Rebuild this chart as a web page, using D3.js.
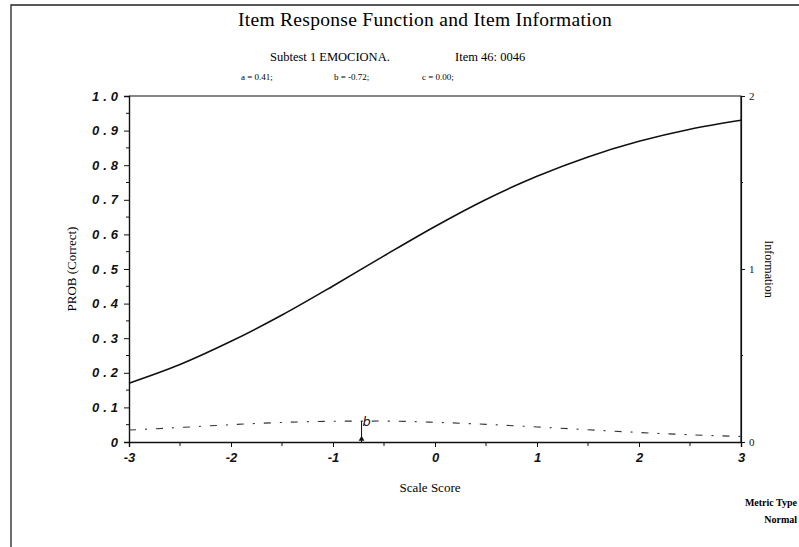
<!DOCTYPE html>
<html>
<head>
<meta charset="utf-8">
<script src="https://cdn.jsdelivr.net/npm/d3@7"></script>
<style>
  body { margin: 0; background: #fff; }
  svg { display: block; }
</style>
</head>
<body>
<svg id="chart"></svg>
<script>
// values
const theta = [-3, -2.5, -2, -1.5, -1, -0.5, 0, 0.5, 1, 1.5, 2, 2.5, 3];
const prob = [0.17, 0.224, 0.291, 0.367, 0.451, 0.538, 0.623, 0.701, 0.768, 0.824, 0.869, 0.904, 0.93];
const info = [0.069, 0.084, 0.100, 0.113, 0.120, 0.121, 0.114, 0.102, 0.087, 0.071, 0.055, 0.042, 0.032];
const bValue = -0.72;
const bInfo = 0.121;
const xTicks = [-3, -2, -1, 0, 1, 2, 3];
const yTicks = [0, 0.1, 0.2, 0.3, 0.4, 0.5, 0.6, 0.7, 0.8, 0.9, 1.0];
const yTickLabels = ["0", "0.1", "0.2", "0.3", "0.4", "0.5", "0.6", "0.7", "0.8", "0.9", "1.0"];
const infoTicks = [0, 1, 2];

const width = 799;
const height = 547;
const margin = { top: 96, right: 58, bottom: 105, left: 129 };

const svg = d3.select("#chart").attr("width", width).attr("height", height);

const x = d3.scaleLinear().domain([-3, 3]).range([margin.left, width - margin.right]);
const y = d3.scaleLinear().domain([0, 1]).range([height - margin.bottom, margin.top]);
const yInfo = d3.scaleLinear().domain([0, 2]).range([height - margin.bottom, margin.top]);

const serif = "'Liberation Serif', 'DejaVu Serif', serif";
const tickFont = "'Liberation Sans', Arial, sans-serif";

// page frame (left and top edge)
svg.append("path")
  .attr("d", `M11,${height} L11,5 L${width},5`)
  .attr("fill", "none")
  .attr("stroke", "#222")
  .attr("stroke-width", 1.3);

// top and right sides of the plot box
svg.append("path")
  .attr("d", `M${x(-3)},${y(1)} L${x(3)},${y(1)} L${x(3)},${y(0)}`)
  .attr("fill", "none")
  .attr("stroke", "#111")
  .attr("stroke-width", 1.2);

// left axis
const yAxis = svg.append("g")
  .attr("transform", `translate(${margin.left},0)`)
  .call(d3.axisLeft(y).tickValues(yTicks).tickSize(5).tickPadding(4)
    .tickFormat((d, i) => yTickLabels[i]));
yAxis.selectAll("line").attr("stroke", "#111");
yAxis.select(".domain").attr("stroke", "#111").attr("stroke-width", 1.4);
yAxis.selectAll("text")
  .style("font-family", tickFont)
  .style("font-size", "13px")
  .style("font-style", "italic")
  .style("font-weight", "bold")
  .style("letter-spacing", "4px")
  .style("fill", "#111")
  .attr("x", -7);
// minor y ticks
svg.append("g").selectAll("line")
  .data(d3.range(0.05, 1, 0.1))
  .join("line")
  .attr("x1", margin.left - 3).attr("x2", margin.left)
  .attr("y1", d => y(d)).attr("y2", d => y(d))
  .attr("stroke", "#111");

// bottom axis
const xAxis = svg.append("g")
  .attr("transform", `translate(0,${height - margin.bottom})`)
  .call(d3.axisBottom(x).tickValues(xTicks).tickSize(5).tickPadding(6).tickFormat(d3.format("d")));
xAxis.selectAll("line").attr("stroke", "#111");
xAxis.select(".domain").attr("stroke", "#111").attr("stroke-width", 1.4);
xAxis.selectAll("text")
  .style("font-family", tickFont)
  .style("font-size", "13px")
  .style("font-style", "italic")
  .style("font-weight", "bold")
  .style("fill", "#111")
  .text(d => d < 0 ? "-" + Math.abs(d) : d);
svg.append("g").selectAll("line")
  .data(d3.range(-2.5, 3, 1))
  .join("line")
  .attr("x1", d => x(d)).attr("x2", d => x(d))
  .attr("y1", height - margin.bottom).attr("y2", height - margin.bottom + 4)
  .attr("stroke", "#111");

// right axis (information)
const rAxis = svg.append("g")
  .attr("transform", `translate(${width - margin.right},0)`)
  .call(d3.axisRight(yInfo).tickValues(infoTicks).tickSize(4).tickPadding(4).tickFormat(d3.format("d")));
rAxis.selectAll("line").attr("stroke", "#111");
rAxis.select(".domain").attr("stroke", "#111").attr("stroke-width", 1.2);
rAxis.selectAll("text")
  .style("font-family", serif)
  .style("font-size", "11px")
  .style("fill", "#111");
svg.append("g").selectAll("line")
  .data([0.5, 1.5])
  .join("line")
  .attr("x1", width - margin.right).attr("x2", width - margin.right + 2)
  .attr("y1", d => yInfo(d)).attr("y2", d => yInfo(d))
  .attr("stroke", "#111");

// item response function
svg.append("path")
  .datum(theta.map((t, i) => [t, prob[i]]))
  .attr("fill", "none")
  .attr("stroke", "#111")
  .attr("stroke-width", 1.6)
  .attr("d", d3.line().x(d => x(d[0])).y(d => y(d[1])).curve(d3.curveMonotoneX));

// item information
svg.append("path")
  .datum(theta.map((t, i) => [t, info[i]]))
  .attr("fill", "none")
  .attr("stroke", "#333")
  .attr("stroke-width", 1.1)
  .attr("stroke-dasharray", "7,9,2,9")
  .attr("d", d3.line().x(d => x(d[0])).y(d => yInfo(d[1])).curve(d3.curveMonotoneX));

// b marker
svg.append("line")
  .attr("x1", x(bValue)).attr("x2", x(bValue))
  .attr("y1", y(0)).attr("y2", yInfo(bInfo))
  .attr("stroke", "#111")
  .attr("stroke-width", 1);
svg.append("path")
  .attr("d", d3.symbol().type(d3.symbolTriangle).size(14)())
  .attr("transform", `translate(${x(bValue)},${y(0) - 3})`)
  .attr("fill", "#111");
svg.append("text")
  .attr("x", x(bValue) + 1)
  .attr("y", yInfo(bInfo) + 5)
  .style("font-family", "'DejaVu Sans', sans-serif")
  .style("font-style", "italic")
  .style("font-size", "13px")
  .style("fill", "#111")
  .text("b");

// titles
svg.append("text")
  .attr("x", 425).attr("y", 26)
  .attr("text-anchor", "middle")
  .style("font-family", serif)
  .style("font-size", "19.5px")
  .style("letter-spacing", "0.3px")
  .text("Item Response Function and Item Information");

svg.append("text")
  .attr("x", 270).attr("y", 61)
  .style("font-family", serif)
  .style("font-size", "12.5px")
  .text("Subtest 1  EMOCIONA.");
svg.append("text")
  .attr("x", 455).attr("y", 61)
  .style("font-family", serif)
  .style("font-size", "12.5px")
  .text("Item 46: 0046");

const params = [["a = 0.41;", 241], ["b = -0.72;", 334], ["c = 0.00;", 422]];
svg.append("g").selectAll("text")
  .data(params)
  .join("text")
  .attr("x", d => d[1]).attr("y", 80)
  .style("font-family", serif)
  .style("font-size", "9px")
  .text(d => d[0]);

// axis titles
svg.append("text")
  .attr("x", 430).attr("y", 492)
  .attr("text-anchor", "middle")
  .style("font-family", serif)
  .style("font-size", "13px")
  .text("Scale Score");

svg.append("text")
  .attr("transform", `translate(76,${(y(0) + y(1)) / 2}) rotate(-90)`)
  .attr("text-anchor", "middle")
  .style("font-family", serif)
  .style("font-size", "13px")
  .text("PROB (Correct)");

svg.append("text")
  .attr("transform", `translate(765,${(y(0) + y(1)) / 2}) rotate(90)`)
  .attr("text-anchor", "middle")
  .style("font-family", serif)
  .style("font-size", "12px")
  .text("Information");

// metric type note
svg.append("text")
  .attr("x", 797).attr("y", 506)
  .attr("text-anchor", "end")
  .style("font-family", serif)
  .style("font-size", "10px")
  .style("font-weight", "bold")
  .text("Metric Type");
svg.append("text")
  .attr("x", 797).attr("y", 523)
  .attr("text-anchor", "end")
  .style("font-family", serif)
  .style("font-size", "10px")
  .style("font-weight", "bold")
  .text("Normal");
</script>
</body>
</html>
